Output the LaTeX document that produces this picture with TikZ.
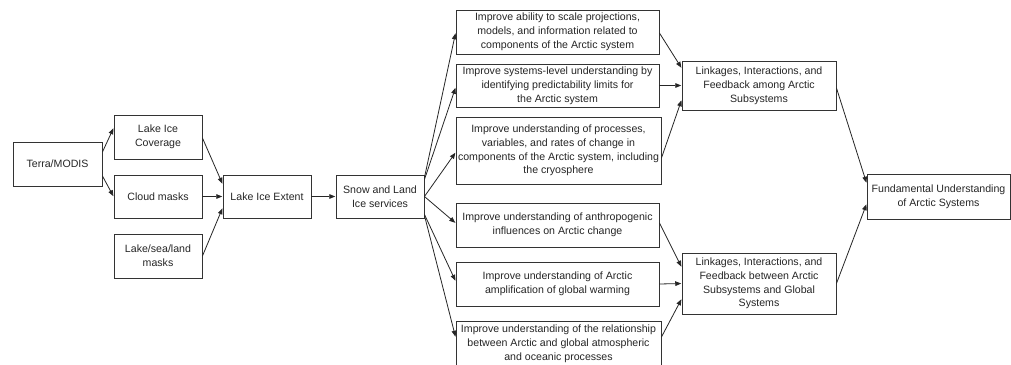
\documentclass[tikz,border=0pt]{standalone}
\usepackage{fontspec}
\setmainfont{Liberation Sans}
\usetikzlibrary{arrows.meta,calc}

\definecolor{edgegray}{HTML}{333333}
\definecolor{inkgray}{HTML}{262626}

\tikzset{
  box/.style={draw=edgegray, line width=0.9pt, fill=white, rectangle,
    inner sep=1pt, align=center, text=inkgray,
    font=\fontsize{10.6}{13.8}\selectfont},
  link/.style={draw=black!85, line width=0.8pt,
    -{Triangle[length=6pt,width=4.6pt]}, shorten >=0.3pt},
}

\begin{document}
\begin{tikzpicture}[x=1pt, y=-1pt]
\useasboundingbox (0,0) rectangle (1011,364);
\fill[white] (0,0) rectangle (1011,364);
\clip (0,0) rectangle (1011,364);

% data sources and intermediate products
\node[box, minimum width=89pt, minimum height=44pt] (terra) at (57.5,164) {Terra/MODIS};
\node[box, minimum width=88pt, minimum height=44pt] (lic) at (158,137) {Lake Ice\\Coverage};
\node[box, minimum width=88pt, minimum height=43pt] (cloud) at (158,196.5) {Cloud masks};
\node[box, minimum width=88pt, minimum height=44pt] (lsl) at (158,256) {Lake/sea/land\\masks};
\node[box, minimum width=88pt, minimum height=43pt] (lie) at (267,196.5) {Lake Ice Extent};
\node[box, minimum width=88pt, minimum height=43pt] (snow) at (380,196.5) {Snow and Land\\Ice services};

% research goals
\node[box, minimum width=203pt, minimum height=44pt] (g1) at (557.5,32)
  {Improve ability to scale projections,\\models, and information related to\\components of the Arctic system};
\node[box, minimum width=203pt, minimum height=43pt] (g2) at (557.5,85.5)
  {Improve systems-level understanding by\\identifying predictability limits for\\the Arctic system};
\node[box, minimum width=205pt, minimum height=67pt] (g3) at (558.5,150.5)
  {Improve understanding of processes,\\variables, and rates of change in\\components of the Arctic system, including\\the cryosphere};
\node[box, minimum width=203pt, minimum height=44pt] (g4) at (557.5,225)
  {Improve understanding of anthropogenic\\influences on Arctic change};
\node[box, minimum width=203pt, minimum height=44pt] (g5) at (557.5,284)
  {Improve understanding of Arctic\\amplification of global warming};
\node[box, minimum width=205pt, minimum height=46pt] (g6) at (558.5,344)
  {Improve understanding of the relationship\\between Arctic and global atmospheric\\and oceanic processes};

% linkage themes and overall outcome
\node[box, minimum width=154pt, minimum height=49pt] (la) at (759,85.5)
  {Linkages, Interactions, and\\Feedback among Arctic\\Subsystems};
\node[box, minimum width=154pt, minimum height=61pt] (lb) at (759,283.5)
  {Linkages, Interactions, and\\Feedback between Arctic\\Subsystems and Global\\Systems};
\node[box, minimum width=143pt, minimum height=45pt] (fu) at (938.5,196.5)
  {Fundamental Understanding\\of Arctic Systems};

% connectors
\draw[link] ($(terra.east)+(0,-12)$) -- ($(lic.west)+(0,-9)$);
\draw[link] ($(terra.east)+(0,12)$) -- (cloud.west);
\draw[link] ($(lic.east)+(0,1)$) -- ($(lie.west)+(0,-12.5)$);
\draw[link] (cloud.east) -- (lie.west);
\draw[link] (lsl.east) -- ($(lie.west)+(0,11.5)$);
\draw[link] (lie.east) -- (snow.west);

\draw[link] ($(snow.north east)+(0,3)$) -- ($(g1.west)+(0,1)$);
\draw[link] ($(snow.north east)+(0,5)$) -- ($(g2.west)+(0,2)$);
\draw[link] (snow.east) -- ($(g3.west)+(0,2)$);
\draw[link] (snow.east) -- ($(g4.west)+(0,-2)$);
\draw[link] ($(snow.south east)+(0,-4)$) -- ($(g5.west)+(0,-3)$);
\draw[link] ($(snow.south east)+(0,-3)$) -- ($(g6.west)+(0,-7)$);

\draw[link] ($(g1.east)+(0,1)$) -- ($(la.west)+(0,-17.5)$);
\draw[link] (g2.east) -- (la.west);
\draw[link] ($(g3.east)+(0,7.5)$) -- ($(la.west)+(0,14.5)$);
\draw[link] ($(g4.east)+(0,-2)$) -- ($(lb.west)+(0,-16.5)$);
\draw[link] (g5.east) -- (lb.west);
\draw[link] ($(g6.east)+(0,-7)$) -- ($(lb.west)+(0,15.5)$);

\draw[link] ($(la.east)+(0,2.5)$) -- ($(fu.west)+(0,-13.5)$);
\draw[link] (lb.east) -- ($(fu.west)+(0,7.5)$);
\end{tikzpicture}
\end{document}
